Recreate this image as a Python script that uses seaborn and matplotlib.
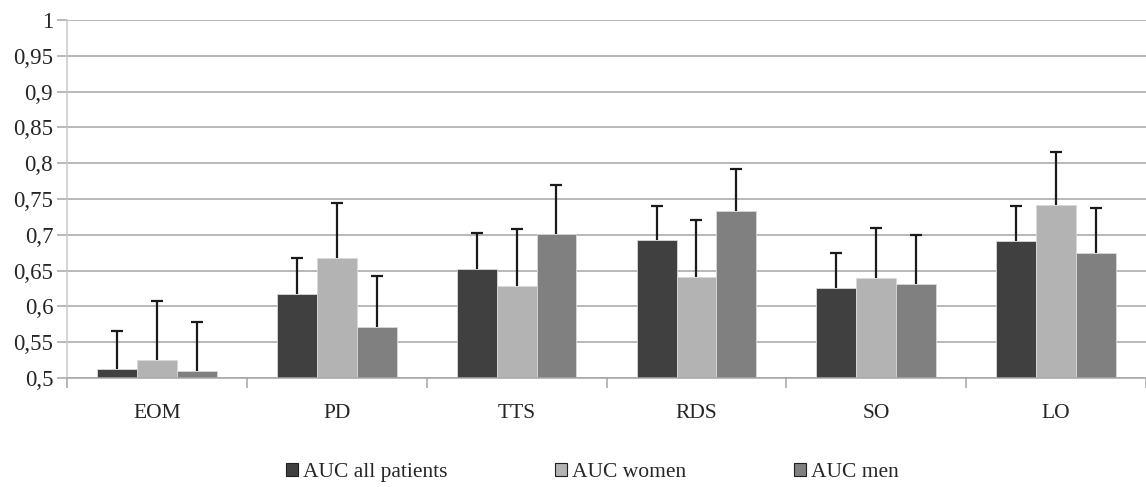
"""
AUC per score (EOM, PD, TTS, RDS, SO, LO) for all patients, women and men,
drawn as grouped bars with upper error bars, Excel-like grey style.
"""

import numpy as np
import pandas as pd
import matplotlib.pyplot as plt
import matplotlib as mpl
from matplotlib.ticker import FuncFormatter, MultipleLocator
import seaborn as sns


CATEGORIES = ["EOM", "PD", "TTS", "RDS", "SO", "LO"]
SERIES = ["AUC all patients", "AUC women", "AUC men"]

AUC_ALL = [0.513, 0.617, 0.652, 0.693, 0.626, 0.691]
AUC_WOMEN = [0.525, 0.668, 0.628, 0.641, 0.639, 0.742]
AUC_MEN = [0.510, 0.571, 0.701, 0.733, 0.631, 0.674]

# upper end of the error bars
TOP_ALL = [0.565, 0.668, 0.703, 0.740, 0.675, 0.740]
TOP_WOMEN = [0.608, 0.745, 0.708, 0.721, 0.710, 0.816]
TOP_MEN = [0.578, 0.642, 0.770, 0.792, 0.700, 0.737]

COLORS = ["#404040", "#b3b3b3", "#808080"]
GRID_COLOR = "#a6a6a6"


def comma_fmt(v, _pos):
    return f"{v:g}".replace(".", ",")


def main():
    sns.set_style("white")
    mpl.rcParams.update({
        "font.family": ["Liberation Serif", "DejaVu Serif"],
        "font.size": 15,
    })

    values = [AUC_ALL, AUC_WOMEN, AUC_MEN]
    tops = [TOP_ALL, TOP_WOMEN, TOP_MEN]
    df = pd.DataFrame({
        "score": CATEGORIES * len(SERIES),
        "auc": np.concatenate(values),
        "group": np.repeat(SERIES, len(CATEGORIES)),
    })

    fig = plt.figure(figsize=(11.46, 4.87), dpi=100)
    ax = fig.add_axes([0.0585, 0.224, 0.9415, 0.735])

    sns.barplot(ax=ax, data=df, x="score", y="auc", hue="group",
                order=CATEGORIES, hue_order=SERIES, palette=COLORS,
                errorbar=None, width=0.665, saturation=1,
                edgecolor="#d9d9d9", linewidth=0.6, zorder=2)

    # upper-only error bars on top of each bar
    for cont, vals, top in zip(ax.containers, values, tops):
        xs = [p.get_x() + p.get_width() / 2 for p in cont.patches]
        err = np.array(top) - np.array(vals)
        eb = ax.errorbar(xs, vals, yerr=[np.zeros_like(err), err], fmt="none",
                         ecolor="#1a1a1a", elinewidth=1.6, capsize=4,
                         capthick=1.6, zorder=3)
        eb[1][0].set_visible(False)  # no cap at the bar top

    ax.set_ylim(0.5, 1.0)
    ax.set_xlim(-0.5, len(CATEGORIES) - 0.5)
    ax.yaxis.set_major_locator(MultipleLocator(0.05))
    ax.yaxis.set_major_formatter(FuncFormatter(comma_fmt))
    ax.grid(axis="y", color=GRID_COLOR, linewidth=1.1, zorder=0)
    ax.set_axisbelow(True)

    ax.set_xlabel("")
    ax.set_ylabel("")
    # category-boundary ticks, like Excel
    ax.set_xticks(np.arange(-0.5, len(CATEGORIES) - 0.4, 1), minor=True)
    ax.tick_params(axis="x", which="major", length=0, pad=19, labelsize=15.5)
    ax.tick_params(axis="x", which="minor", length=7, color=GRID_COLOR,
                   width=1.1, direction="out", bottom=True)
    ax.tick_params(axis="y", length=7, color=GRID_COLOR, width=1.1,
                   direction="out", left=True, pad=3, labelsize=16.5)

    for side in ["top", "right"]:
        ax.spines[side].set_visible(False)
    ax.spines["left"].set_color("#c8c8c8")
    ax.spines["left"].set_linewidth(1.1)
    ax.spines["bottom"].set_color(GRID_COLOR)
    ax.spines["bottom"].set_linewidth(1.1)

    handles, labels = ax.get_legend_handles_labels()
    ax.legend_.remove()
    for h in handles:
        h.set_edgecolor("#202020")
        h.set_linewidth(0.8)
    fig.legend(handles, labels, loc="lower center", ncol=3,
               bbox_to_anchor=(0.517, -0.03), frameon=False, fontsize=15.5,
               handlelength=0.55, handleheight=0.55, handletextpad=0.25,
               columnspacing=5.0)

    fig.savefig("out.png", dpi=100)
    plt.close(fig)


if __name__ == "__main__":
    main()
